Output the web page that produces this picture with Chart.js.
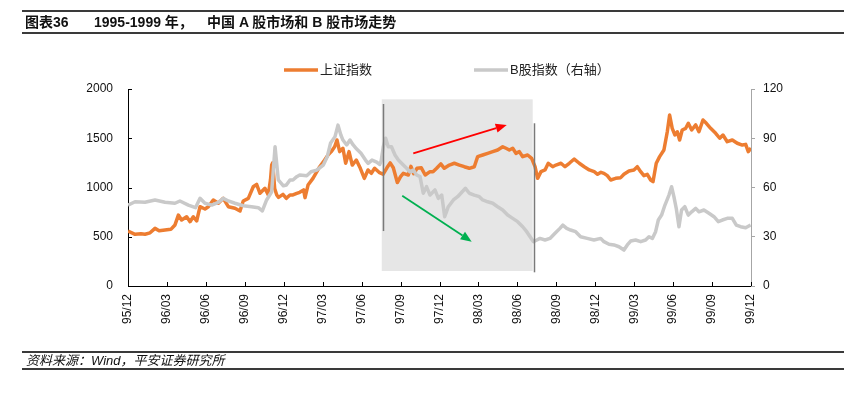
<!DOCTYPE html>
<html><head><meta charset="utf-8">
<script src="https://cdn.jsdelivr.net/npm/chart.js@4"></script>
<style>
html,body{margin:0;padding:0;background:#fff;width:844px;height:398px;overflow:hidden;}
#wrap{position:relative;width:844px;height:398px;}
canvas{position:absolute;left:0;top:0;}
.rule{position:absolute;left:22px;right:0;height:2px;background:#3a3a3a;}
.tt{position:absolute;top:13px;font:bold 14px "Liberation Sans","Noto Sans CJK SC",sans-serif;white-space:pre;color:#111;line-height:18px;}
#src{position:absolute;left:26px;top:353px;font:italic 13px "Liberation Sans","Noto Sans CJK SC",sans-serif;color:#111;line-height:16px;white-space:pre;}
</style></head>
<body><div id="wrap">
<canvas id="c" width="844" height="398"></canvas>
<div class="rule" style="top:10px"></div>
<div class="tt" style="left:25px">图表36</div>
<div class="tt" style="left:94px">1995-1999 年，</div>
<div class="tt" style="left:207px">中国 A 股市场和 B 股市场走势</div>
<div class="rule" style="top:32px"></div>
<div class="rule" style="top:351px;height:1.5px"></div>
<div id="src">资料来源：Wind，平安证券研究所</div>
<div class="rule" style="top:368px;height:1.5px"></div>
</div>
<script>
// tick labels (x positions are month index from 95/12)
const xLabels = ['95/12','96/03','96/06','96/09','96/12','97/03','97/06','97/09','97/12','98/03','98/06','98/09','98/12','99/03','99/06','99/09','99/12'];
const seriesNames = ['上证指数','B股指数（右轴）'];

// 上证指数 (left axis)
const shT = [0,0.54,1.0,1.31,1.7,2.08,2.4,2.85,3.3,3.62,3.88,4.13,4.52,4.78,5.03,5.29,5.55,5.93,6.19,6.57,6.96,7.34,7.73,8.24,8.63,8.88,9.27,9.65,9.91,10.17,10.55,10.81,10.98,11.07,11.15,11.3,11.46,11.6,11.94,12.2,12.48,12.71,13.0,13.23,13.53,13.64,13.87,14.25,14.77,15.15,15.41,15.66,15.92,16.1,16.31,16.56,16.77,17.03,17.28,17.59,17.9,18.21,18.49,18.75,19.0,19.34,19.65,19.95,20.2,20.44,20.75,21.0,21.21,21.44,21.6,21.8,22.01,22.27,22.6,22.9,23.27,23.5,23.78,24.1,24.37,24.76,25.14,25.53,25.91,26.3,26.68,26.94,27.33,27.71,28.1,28.48,28.87,29.12,29.38,29.64,29.89,30.15,30.41,30.79,31.1,31.36,31.56,31.82,32.13,32.38,32.72,32.97,33.36,33.67,34.0,34.38,34.77,35.15,35.54,35.92,36.18,36.44,36.67,36.93,37.19,37.57,37.96,38.21,38.6,38.98,39.24,39.5,39.75,40.01,40.27,40.45,40.7,40.96,41.29,41.55,41.73,41.93,42.14,42.32,42.5,42.7,42.97,43.17,43.43,43.74,43.99,44.3,44.56,44.89,45.28,45.59,45.84,46.17,46.56,46.94,47.33,47.59,47.79,48.0];
const shV = [558,525,530,525,540,585,560,568,575,620,720,670,703,653,703,660,805,782,805,873,840,890,805,789,761,863,890,1008,1032,941,992,924,1080,1228,1250,990,924,900,930,890,924,924,940,951,975,897,1025,1093,1211,1279,1330,1364,1414,1482,1364,1398,1246,1364,1228,1279,1195,1093,1178,1144,1195,1154,1134,1200,1250,1200,1050,1110,1144,1134,1127,1215,1140,1195,1200,1127,1161,1160,1195,1240,1195,1228,1246,1228,1211,1195,1211,1313,1330,1347,1364,1381,1414,1398,1381,1398,1347,1364,1313,1330,1296,1211,1093,1161,1178,1246,1211,1228,1246,1211,1246,1289,1246,1211,1178,1161,1134,1154,1144,1120,1076,1093,1100,1134,1168,1178,1211,1161,1120,1134,1076,1059,1246,1313,1381,1566,1736,1601,1533,1566,1482,1584,1601,1652,1584,1635,1566,1685,1652,1601,1550,1500,1533,1465,1482,1449,1431,1438,1364,1400];

// B股指数 (right axis)
const bT = [0,0.54,1.31,2.08,2.85,3.62,4.0,4.65,5.2,5.55,5.93,6.45,6.96,7.34,7.73,8.24,8.88,9.52,10.04,10.35,10.68,11.07,11.33,11.58,11.97,12.2,12.48,12.71,13.0,13.23,13.77,14.1,14.54,15.05,15.35,15.6,15.95,16.18,16.4,16.56,16.85,17.1,17.35,17.62,17.95,18.3,18.5,18.8,19.16,19.39,19.5,19.67,19.85,20.05,20.3,20.57,20.83,21.21,21.47,21.72,21.98,22.24,22.5,22.75,23.0,23.27,23.65,23.91,24.17,24.4,24.68,25.07,25.4,25.75,26.0,26.3,26.68,27.07,27.33,27.71,28.1,28.48,28.87,29.25,29.64,30.02,30.41,30.72,30.98,31.24,31.5,31.74,32.13,32.51,32.9,33.28,33.5,33.8,34.1,34.49,34.87,35.38,35.9,36.42,36.67,37.06,37.44,37.83,38.21,38.47,38.73,39.11,39.5,39.88,40.14,40.4,40.65,40.86,41.11,41.37,41.68,41.88,42.06,42.24,42.45,42.65,42.9,43.17,43.43,43.74,43.99,44.37,44.76,45.15,45.48,45.79,46.17,46.56,46.87,47.2,47.59,47.97];
const bV = [49.3,51.3,51.0,52.4,51.0,50.4,51.8,49.3,47.7,53.4,50.4,49.3,51.0,53.4,51.8,50.4,48.9,48.3,47.7,45.7,52.4,57.4,84.8,64.6,61.0,61.5,64.6,64.6,66.6,67.6,67.2,69.6,70.6,73.7,78.7,86.9,91.0,98.0,92.0,88.9,85.9,88.9,85.9,83.4,80.8,76.7,74.7,76.7,75.5,74.0,76.0,84.8,90.0,84.8,84.8,79.8,76.7,73.7,71.7,69.6,70.6,67.6,66.6,56.5,60.5,55.4,58.5,53.4,55.4,42.2,48.3,52.4,54.4,57.4,59.5,56.5,55.4,54.4,52.4,51.3,50.4,48.3,46.3,43.2,41.2,39.2,36.1,33.1,30.0,27.0,28.0,29.0,28.0,29.0,32.1,35.1,37.1,35.1,34.1,33.1,30.0,29.0,28.0,29.0,27.0,25.4,25.0,23.9,21.9,25.0,27.4,28.0,27.0,28.0,30.0,29.0,33.1,40.2,43.2,49.3,55.4,60.5,54.4,47.3,36.1,46.3,48.3,43.2,45.2,47.3,45.2,46.3,44.3,42.2,39.2,40.2,41.2,41.2,37.1,36.1,35.5,37.1];

// annotation geometry in data units (month index, left-axis value)
const shadeX = [19.55, 31.18], shadeY = [152, 1895];
const markLines = [[19.67, 558, 1848], [31.3, 139, 1652]];
const redArrow = [[21.98, 1347], [29.18, 1635]];
const greenArrow = [[21.13, 917], [26.48, 450]];

const FONT = '"Liberation Sans","Noto Sans CJK SC",sans-serif';
const ORANGE = '#ED7D31', GRAY = '#C9C9C9';

function arrow(ctx, sx, sy, ex, ey, color){
  const ang = Math.atan2(ey - sy, ex - sx), L = 11, W = 4.5;
  const bx = ex - L*Math.cos(ang), by = ey - L*Math.sin(ang);
  ctx.save();
  ctx.strokeStyle = color; ctx.fillStyle = color; ctx.lineWidth = 1.8;
  ctx.beginPath(); ctx.moveTo(sx, sy); ctx.lineTo(bx, by); ctx.stroke();
  ctx.beginPath(); ctx.moveTo(ex, ey);
  ctx.lineTo(bx + W*Math.sin(ang), by - W*Math.cos(ang));
  ctx.lineTo(bx - W*Math.sin(ang), by + W*Math.cos(ang));
  ctx.closePath(); ctx.fill();
  ctx.restore();
}

const decor = {
  id: 'decor',
  beforeDatasetsDraw(chart){
    const {ctx, scales:{x, y}} = chart;
    ctx.save();
    ctx.fillStyle = '#E6E6E6';
    const x0 = x.getPixelForValue(shadeX[0]), x1 = x.getPixelForValue(shadeX[1]);
    const y0 = y.getPixelForValue(shadeY[1]), y1 = y.getPixelForValue(shadeY[0]);
    ctx.fillRect(x0, y0, x1 - x0, y1 - y0);
    ctx.restore();
  },
  afterDatasetsDraw(chart){
    const {ctx, scales:{x, y}, chartArea:ca} = chart;
    ctx.save();
    ctx.strokeStyle = '#7A7A7A'; ctx.lineWidth = 1.5;
    markLines.forEach(([m, lo, hi]) => {
      const px = Math.round(x.getPixelForValue(m)) + 0.5;
      ctx.beginPath(); ctx.moveTo(px, y.getPixelForValue(hi)); ctx.lineTo(px, y.getPixelForValue(lo)); ctx.stroke();
    });
    ctx.restore();
    arrow(ctx, x.getPixelForValue(redArrow[0][0]), y.getPixelForValue(redArrow[0][1]), x.getPixelForValue(redArrow[1][0]), y.getPixelForValue(redArrow[1][1]), '#FF0000');
    arrow(ctx, x.getPixelForValue(greenArrow[0][0]), y.getPixelForValue(greenArrow[0][1]), x.getPixelForValue(greenArrow[1][0]), y.getPixelForValue(greenArrow[1][1]), '#00B050');
    // inward tick marks
    ctx.save();
    ctx.strokeStyle = '#000'; ctx.lineWidth = 1;
    y.ticks.forEach(t => {
      const py = Math.round(y.getPixelForValue(t.value)) + 0.5;
      ctx.beginPath(); ctx.moveTo(ca.left, py); ctx.lineTo(ca.left + 4, py); ctx.stroke();
    });
    x.ticks.forEach(t => {
      const px = Math.round(x.getPixelForValue(t.value)) + 0.5;
      ctx.beginPath(); ctx.moveTo(px, ca.bottom); ctx.lineTo(px, ca.bottom - 4); ctx.stroke();
    });
    ctx.restore();
  },
  afterDraw(chart){
    const ctx = chart.ctx;
    ctx.save();
    ctx.font = '13px ' + FONT; ctx.fillStyle = '#222'; ctx.textBaseline = 'middle';
    ctx.lineWidth = 3.5; ctx.lineCap = 'butt';
    const items = [[284, ORANGE, seriesNames[0]], [474, GRAY, seriesNames[1]]];
    items.forEach(([lx, col, txt]) => {
      ctx.strokeStyle = col;
      ctx.beginPath(); ctx.moveTo(lx, 70); ctx.lineTo(lx + 34, 70); ctx.stroke();
      ctx.fillText(txt, lx + 36, 70);
    });
    ctx.restore();
  }
};

new Chart(document.getElementById('c'), {
  type: 'line',
  data: {
    datasets: [
      {label: seriesNames[0], data: shT.map((t, i) => ({x: t, y: shV[i]})), yAxisID: 'y',
       borderColor: ORANGE, borderWidth: 3.5, pointRadius: 0, tension: 0, borderJoinStyle: 'round', order: 1},
      {label: seriesNames[1], data: bT.map((t, i) => ({x: t, y: bV[i]})), yAxisID: 'y1',
       borderColor: GRAY, borderWidth: 3.5, pointRadius: 0, tension: 0, borderJoinStyle: 'round', order: 0}
    ]
  },
  options: {
    responsive: false, animation: false, devicePixelRatio: 1,
    layout: {padding: {top: 89, bottom: 0, left: 0, right: 0}},
    plugins: {legend: {display: false}, tooltip: {enabled: false}},
    scales: {
      x: {type: 'linear', min: 0, max: 48,
          afterBuildTicks: s => { s.ticks = xLabels.map((l, i) => ({value: i * 3})); },
          ticks: {autoSkip: false, minRotation: 90, maxRotation: 90, padding: 8, color: '#111',
                  font: {size: 12, family: FONT}, callback: v => xLabels[Math.round(v / 3)]},
          grid: {display: false, drawTicks: false},
          border: {display: true, color: '#000', width: 1},
          afterFit: s => { s.height = 112; }},
      y: {position: 'left', min: 0, max: 2000,
          ticks: {stepSize: 500, padding: 15, color: '#111', font: {size: 12, family: FONT}, callback: v => String(v)},
          grid: {display: false, drawTicks: false},
          border: {display: true, color: '#000', width: 1},
          afterFit: s => { s.width = 128; }},
      y1: {position: 'right', min: 0, max: 120,
          ticks: {stepSize: 30, padding: 8, color: '#111', font: {size: 12, family: FONT}, callback: v => String(v)},
          grid: {display: true, drawOnChartArea: false, drawTicks: true, tickLength: 4, color: '#A6A6A6'},
          border: {display: true, color: '#A6A6A6', width: 1},
          afterFit: s => { s.width = 93; }}
    }
  },
  plugins: [decor]
});
</script>
</body></html>
